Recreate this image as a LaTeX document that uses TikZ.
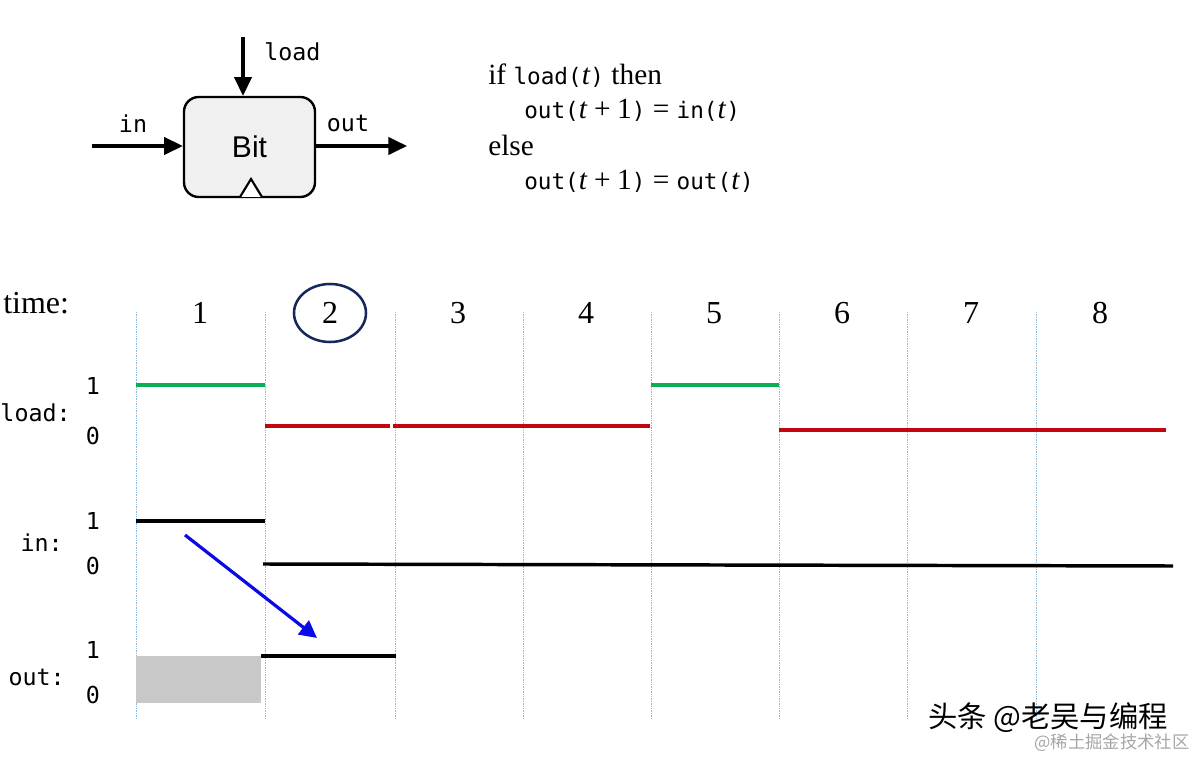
\documentclass[tikz,border=0pt]{standalone}
\usepackage{fontspec}
\setmainfont{Liberation Serif}
\setsansfont{Liberation Sans}
\setmonofont{DejaVu Sans Mono}
\newfontfamily\cjk{Noto Sans CJK SC}
\usetikzlibrary{arrows.meta}
\definecolor{gridblue}{RGB}{140,185,220}
\definecolor{sgreen}{RGB}{10,175,85}
\definecolor{sred}{RGB}{195,5,15}
\definecolor{sblue}{RGB}{10,10,230}
\definecolor{navy}{RGB}{20,40,90}
\definecolor{boxgray}{RGB}{240,240,240}
\definecolor{shadegray}{RGB}{200,200,200}
\newcommand\mt[1]{{\fontsize{17}{18}\ttfamily #1}}
\begin{document}
\begin{tikzpicture}[x=0.75pt,y=-0.75pt,
  mono/.style={font=\fontsize{17.5}{18}\ttfamily, inner sep=0pt},
  eqn/.style={font=\fontsize{22}{24}\selectfont, inner sep=0pt, anchor=west},
  timefont/.style={font=\fontsize{24}{26}\selectfont, inner sep=0pt},
  sig/.style={line width=2.6pt},
  gridline/.style={draw=gridblue, line width=0.6pt, dash pattern=on 1pt off 0.8pt},
  arr/.style={line width=2.4pt, -{Triangle[length=14pt,width=13pt]}},
  wm/.style={font=\cjk\fontsize{22}{24}\selectfont, inner sep=0pt}]
\useasboundingbox (0,0) rectangle (1200,759);

% ---------- Bit box ----------
\node[draw, line width=1.8pt, rounded corners=11pt, fill=boxgray,
      minimum width=98.25pt, minimum height=75pt, inner sep=0pt,
      font=\sffamily\fontsize{22.5}{24}\selectfont] (bit) at (249.5,147) {Bit};
\draw[line width=1.6pt, fill=white] (240,197) -- (251,179) -- (262,197);
\coordinate (loadsrc) at (243,37);
\coordinate (insrc) at (92,146);
\coordinate (outdst) at (407,146);
\draw[arr] (loadsrc) -- (loadsrc |- bit.north);
\draw[arr] (insrc) -- (bit.west |- insrc);
\draw[arr] (bit.east |- outdst) -- (outdst);
\node[mono, anchor=west] (lload) at (264,52) {load};
\node[mono] (lin) at (133,124) {in};
\node[mono] (lout) at (348,123) {out};

% ---------- equations ----------
\node[eqn] (e1) at (488,76) {if \mt{load(}\textit{t}\mt{)} then};
\node[eqn] (e2) at (524,110) {\mt{out(}\textit{t}\:+\:1\mt{)} = \mt{in(}\textit{t}\mt{)}};
\node[eqn] (e3) at (488,145) {else};
\node[eqn] (e4) at (524,181) {\mt{out(}\textit{t}\:+\:1\mt{)} = \mt{out(}\textit{t}\mt{)}};

% ---------- timing grid ----------
\node[timefont, anchor=west] (time) at (3,303) {time:};
\foreach \x in {136,265,395,523,651,779,907,1036}
  \draw[gridline] (\x,312) -- (\x,718);
\foreach \n/\x in {1/200,2/330,3/458,4/586,5/714,6/842,7/971,8/1100}
  \node[timefont] (t\n) at (\x,313) {\n};
\draw[navy, line width=1.9pt] (t2) ellipse [x radius=36, y radius=29];

% labels
\node[mono, anchor=east] (lbload) at (71,413) {load:};
\node[mono] (l1a) at (93,386) {1};
\node[mono] (l0a) at (93,436) {0};
\node[mono, anchor=east] (lbin) at (63,543) {in:};
\node[mono] (l1b) at (93,521) {1};
\node[mono] (l0b) at (93,566) {0};
\node[mono, anchor=east] (lbout) at (65,677) {out:};
\node[mono] (l1c) at (93,650) {1};
\node[mono] (l0c) at (93,695) {0};

% load signal
\draw[sig, sgreen] (136,385) -- (265,385);
\draw[sig, sgreen] (651,385) -- (779,385);
\draw[sig, sred] (265,426) -- (390,426);
\draw[sig, sred] (393,426) -- (650,426);
\draw[sig, sred] (779,430) -- (1166,430);

% in signal
\draw[sig, black] (136,521) -- (265,521);
\draw[sig, black] (263,564) -- (1173,566);

% out signal
\fill[shadegray] (136,656) rectangle (261,703);
\draw[sig, black] (261,656) -- (396,656);

% blue arrow
\coordinate (ba) at (185,535);
\coordinate (bb) at (317,638);
\draw[sblue, line width=2.4pt, -{Triangle[length=13pt,width=13pt]}] (ba) -- (bb);

% watermark
\node[wm, anchor=west] (w1) at (928,718) {头条 @老吴与编程};
\node[font=\cjk\fontsize{13}{14}\selectfont, inner sep=0pt, anchor=west, text=gray!70] (w2) at (1034,743) {@稀土掘金技术社区};
\end{tikzpicture}
\end{document}
